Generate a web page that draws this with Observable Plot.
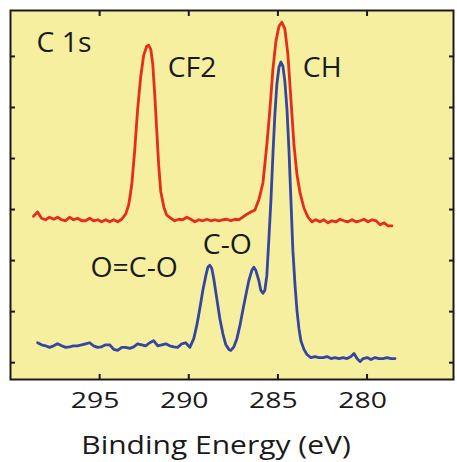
<!DOCTYPE html>
<html>
<head>
<meta charset="utf-8">
<script src="https://cdn.jsdelivr.net/npm/d3@7"></script>
<script src="https://cdn.jsdelivr.net/npm/@observablehq/plot@0.6"></script>
<style>
  html, body { margin: 0; padding: 0; background: #ffffff; }
  #chart { width: 457px; height: 462px; }
</style>
</head>
<body>
<div id="chart"></div>
<script>
// ---- Data (binding energy in eV, intensity in arbitrary units) ----
const redEnergy = [
  298.71, 298.48, 298.26, 298.03, 297.81, 297.58, 297.36, 297.13, 296.91, 296.69,
  296.46, 296.24, 296.01, 295.79, 295.56, 295.34, 295.11, 294.89, 294.66, 294.44,
  294.21, 293.99, 293.76, 293.54, 293.37, 293.20, 293.03, 292.87, 292.70, 292.53,
  292.36, 292.25, 292.13, 292.02, 291.91, 291.80, 291.69, 291.57, 291.40, 291.24,
  291.01, 290.79, 290.56, 290.34, 290.11, 289.89, 289.66, 289.44, 289.21, 288.99,
  288.76, 288.54, 288.31, 288.09, 287.87, 287.64, 287.42, 287.19, 286.97, 286.74,
  286.52, 286.29, 286.07, 285.84, 285.62, 285.45, 285.28, 285.11, 284.94, 284.78,
  284.61, 284.44, 284.27, 284.10, 283.93, 283.76, 283.54, 283.31, 283.09, 282.87,
  282.64, 282.42, 282.19, 281.97, 281.74, 281.52, 281.29, 281.07, 280.84, 280.62,
  280.39, 280.17, 279.94, 279.72, 279.49, 279.27, 279.04, 278.82, 278.60
];
const redCounts = [
  2.87, 2.95, 2.83, 2.80, 2.85, 2.81, 2.85, 2.80, 2.78, 2.85,
  2.80, 2.83, 2.78, 2.78, 2.83, 2.78, 2.80, 2.76, 2.80, 2.76,
  2.80, 2.76, 2.81, 2.91, 3.09, 3.48, 4.17, 4.96, 5.59, 6.02,
  6.20, 6.22, 6.14, 5.85, 5.26, 4.57, 3.88, 3.35, 3.05, 2.89,
  2.83, 2.78, 2.81, 2.80, 2.85, 2.81, 2.76, 2.80, 2.78, 2.81,
  2.78, 2.80, 2.78, 2.80, 2.81, 2.78, 2.81, 2.80, 2.85, 2.91,
  2.95, 2.99, 3.19, 3.52, 4.27, 4.96, 5.75, 6.30, 6.59, 6.67,
  6.54, 6.04, 5.16, 4.27, 3.68, 3.33, 3.03, 2.85, 2.76, 2.80,
  2.76, 2.80, 2.74, 2.78, 2.76, 2.81, 2.78, 2.76, 2.80, 2.76,
  2.78, 2.81, 2.76, 2.80, 2.78, 2.70, 2.74, 2.68, 2.68
];
const blueEnergy = [
  298.48, 298.26, 298.03, 297.81, 297.58, 297.36, 297.13, 296.91, 296.69, 296.46,
  296.24, 296.01, 295.79, 295.56, 295.34, 295.11, 294.89, 294.66, 294.44, 294.21,
  293.99, 293.76, 293.54, 293.31, 293.09, 292.87, 292.64, 292.42, 292.19, 291.97,
  291.74, 291.52, 291.29, 291.07, 290.84, 290.62, 290.39, 290.17, 289.94,
  289.72, 289.55, 289.38, 289.21, 289.04, 288.93, 288.82, 288.71, 288.60, 288.43,
  288.26, 288.09, 287.92, 287.75, 287.64, 287.47, 287.30, 287.13, 286.97, 286.80,
  286.63, 286.46, 286.35, 286.24, 286.07, 285.96, 285.84, 285.73, 285.62, 285.51,
  285.39, 285.28, 285.17, 285.06, 284.94, 284.83, 284.72, 284.61, 284.49, 284.38,
  284.27, 284.16, 284.04, 283.93, 283.82, 283.71, 283.54, 283.37, 283.15, 282.92,
  282.70, 282.47, 282.25, 282.02, 281.80, 281.57, 281.35, 281.12, 280.90, 280.73,
  280.56, 280.39, 280.22, 279.99, 279.78, 279.55, 279.33, 279.10, 278.88, 278.65,
  278.43
];
const blueCounts = [
  0.39, 0.35, 0.33, 0.30, 0.33, 0.37, 0.33, 0.30, 0.31, 0.33,
  0.33, 0.35, 0.37, 0.39, 0.33, 0.30, 0.31, 0.35, 0.35, 0.26,
  0.24, 0.30, 0.30, 0.28, 0.31, 0.37, 0.35, 0.33, 0.39, 0.43,
  0.33, 0.35, 0.37, 0.33, 0.31, 0.30, 0.37, 0.39, 0.30,
  0.47, 0.73, 1.06, 1.42, 1.71, 1.87, 1.91, 1.85, 1.65, 1.26,
  0.87, 0.57, 0.35, 0.26, 0.24, 0.31, 0.47, 0.73, 1.02, 1.32,
  1.61, 1.81, 1.87, 1.81, 1.61, 1.42, 1.36, 1.42, 1.71, 2.40,
  3.19, 4.07, 4.86, 5.45, 5.79, 5.89, 5.81, 5.51, 4.96, 4.17,
  3.19, 2.20, 1.52, 1.02, 0.67, 0.43, 0.26, 0.16, 0.10, 0.12,
  0.10, 0.10, 0.12, 0.08, 0.10, 0.08, 0.10, 0.08, 0.12, 0.18,
  0.08, 0.02, 0.08, 0.10, 0.06, 0.10, 0.08, 0.08, 0.10, 0.08,
  0.08
];
const xTicks = [295, 290, 285, 280];
const yTicks = [0, 1, 2, 3, 4, 5, 6];
const peakLabels = ["C 1s", "CF2", "CH", "C-O", "O=C-O"];
const peakLabelEnergy = [298.54, 291.18, 283.60, 289.21, 295.51];
const peakLabelCounts = [6.08, 5.59, 5.59, 2.12, 1.67];
const xTitle = "Binding Energy (eV)";

// ---- Build tables ----
const red = redEnergy.map((e, i) => ({e, v: redCounts[i]}));
const blue = blueEnergy.map((e, i) => ({e, v: blueCounts[i]}));
const annot = peakLabels.map((t, i) => ({t, e: peakLabelEnergy[i], v: peakLabelCounts[i]}));

const FONT = "'Open Sans', 'DejaVu Sans', sans-serif";
const INK = "#1a1a1a";

const chart = Plot.plot({
  width: 457,
  height: 462,
  marginLeft: 10,
  marginRight: 4,
  marginTop: 10,
  marginBottom: 83,
  style: {fontFamily: FONT, background: "#ffffff", color: INK},
  x: {domain: [300, 275.15], ticks: xTicks},
  y: {domain: [-0.33, 6.9], ticks: yTicks},
  marks: [
    Plot.frame({fill: "#f7efa0", stroke: null}),
    Plot.line(red, {x: "e", y: "v", stroke: "#e62c1f", strokeWidth: 2.8, strokeLinejoin: "round"}),
    Plot.line(blue, {x: "e", y: "v", stroke: "#3445a2", strokeWidth: 2.8, strokeLinejoin: "round"}),
    // inward ticks on all four sides
    Plot.axisX(xTicks, {anchor: "bottom", tickSize: -5, strokeWidth: 2, stroke: INK, tickFormat: () => "", label: null}),
    Plot.axisX(xTicks, {anchor: "top", tickSize: -5, strokeWidth: 2, stroke: INK, tickFormat: () => "", label: null}),
    Plot.axisY(yTicks, {anchor: "left", tickSize: -5, strokeWidth: 2, stroke: INK, tickFormat: () => "", label: null}),
    Plot.axisY(yTicks, {anchor: "right", tickSize: -5, strokeWidth: 2, stroke: INK, tickFormat: () => "", label: null}),
    // tick labels
    Plot.axisX(xTicks, {anchor: "bottom", tickSize: 0, tickPadding: 14, fontSize: 21, dx: -4.5, fill: INK, label: null}),
    Plot.frame({stroke: INK, strokeWidth: 2}),
    // peak annotations
    Plot.text(annot, {x: "e", y: "v", text: "t", textAnchor: "start", lineAnchor: "bottom", fontSize: 27, fill: INK}),
    // axis title
    Plot.text([xTitle], {frameAnchor: "bottom", dx: -16, dy: 74, lineAnchor: "bottom", fontSize: 25, fill: INK})
  ]
});

document.getElementById("chart").appendChild(chart);

// widen glyphs to match the reference's stretched lettering
const tickStrings = new Set(xTicks.map(String));
const peakStrings = new Set(peakLabels);
chart.querySelectorAll("text").forEach(t => {
  const s = t.textContent;
  let k = null;
  if (tickStrings.has(s)) k = 1.35;
  else if (s === xTitle) k = 1.2;
  else if (peakStrings.has(s)) k = 1.05;
  if (k) {
    const w = t.getComputedTextLength();
    t.setAttribute("textLength", (w * k).toFixed(1));
    t.setAttribute("lengthAdjust", "spacingAndGlyphs");
  }
});
</script>
</body>
</html>
